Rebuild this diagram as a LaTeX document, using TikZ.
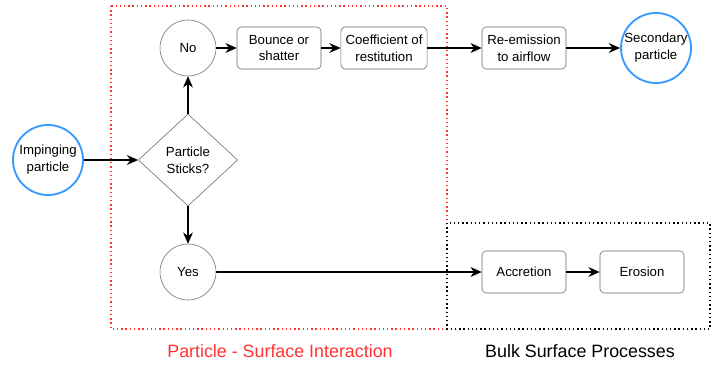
\documentclass[tikz,border=0pt]{standalone}
\usepackage{fontspec}
\setmainfont{Liberation Sans}
\usetikzlibrary{shapes,arrows,positioning,calc,arrows.meta}
\definecolor{ringblue}{RGB}{51,153,255}
\definecolor{zonered}{RGB}{255,51,51}
\tikzset{
    proc/.style={draw=black!60, rounded corners=3pt, minimum width=2.1cm, minimum height=1.05cm, align=center, font=\fontsize{9.4}{12}\selectfont},
    ends/.style={draw=ringblue, line width=1.3pt, circle, minimum size=1.75cm, inner sep=0pt, align=center, font=\fontsize{9.4}{12}\selectfont},
    answer/.style={draw=black!60, circle, minimum size=1.4cm, inner sep=0pt, font=\fontsize{9.4}{12}\selectfont},
    flow/.style={-{Stealth[length=8pt,width=7pt]}, line width=0.9pt},
}
\begin{document}
\begin{tikzpicture}[x=0.025cm, y=-0.025cm]
    \useasboundingbox (0,0) rectangle (719,368);
    % zones
    \draw[zonered, dotted, line width=1pt] (111,6) rectangle (447,329);
    \draw[black, dotted, line width=1pt] (447,223) rectangle (710,329);
    \node[text=zonered, font=\fontsize{12.7}{15}\selectfont] (pzone) at (280,351) {Particle - Surface Interaction};
    \node[font=\fontsize{12.7}{15}\selectfont] (bzone) at (580,351) {Bulk Surface Processes};
    % nodes
    \node[ends] (imp) at (48,160) {Impinging\\particle};
    \node[draw=black!60, diamond, aspect=1.07, minimum width=2.48cm, minimum height=2.3cm, inner sep=0pt, align=center, font=\fontsize{9.4}{12}\selectfont] (stick) at (188,160) {Particle\\Sticks?};
    \node[answer] (no) at (188,48) {No};
    \node[answer] (yes) at (188,272) {Yes};
    \node[proc] (bounce) at (279,48) {Bounce or\\shatter};
    \node[proc] (coef) at (384,48) {Coefficient of\\restitution};
    \node[proc] (reem) at (524,48) {Re-emission\\to airflow};
    \node[ends] (sec) at (656,48) {Secondary\\particle};
    \node[proc] (accr) at (524,272) {Accretion};
    \node[proc] (eros) at (642,272) {Erosion};
    % connectors
    \draw[flow] (imp) -- (stick);
    \draw[flow] (stick) -- (no);
    \draw[flow] (stick) -- (yes);
    \draw[flow] (no) -- (bounce);
    \draw[flow] (bounce) -- (coef);
    \draw[flow] (coef) -- (reem);
    \draw[flow] (reem) -- (sec);
    \draw[flow] (yes) -- (accr);
    \draw[flow] (accr) -- (eros);
\end{tikzpicture}
\end{document}
